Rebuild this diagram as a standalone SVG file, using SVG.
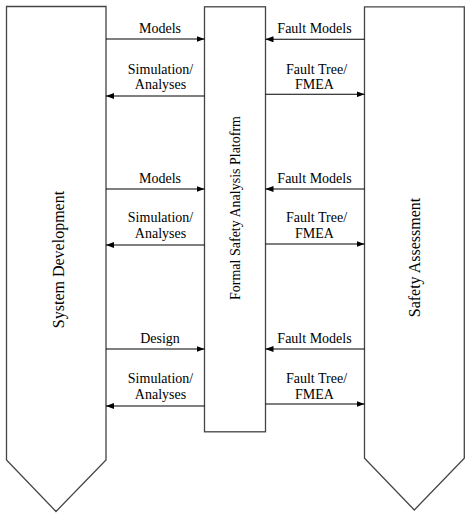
<svg xmlns="http://www.w3.org/2000/svg" width="471" height="521" viewBox="0 0 471 521">
<style>
.box{fill:#fff;stroke:#444;stroke-width:1.3}
.ln{stroke:#000;stroke-width:1.1;fill:none}
.lbl{font-family:"Liberation Serif",serif;font-size:14px;fill:#000;text-anchor:middle}
.big{font-family:"Liberation Serif",serif;font-size:16px;fill:#000;text-anchor:middle}
.mid{font-family:"Liberation Serif",serif;font-size:14px;fill:#000;text-anchor:middle}
</style>
<defs>
<marker id="ah" viewBox="0 0 8 6" refX="8" refY="3" markerWidth="8" markerHeight="6" markerUnits="userSpaceOnUse" orient="auto">
<path d="M0,0 L8,3 L0,6 Z" fill="#000"/>
</marker>
</defs>
<g id="system-development">
<polygon class="box" points="6.5,6.5 106,6.5 106,460 56,511.5 6.5,460"/>
<text class="big" transform="translate(64,259.5) rotate(-90)">System Development</text>
</g>
<g id="platform">
<rect class="box" x="204.5" y="6.8" width="61" height="425"/>
<text class="mid" transform="translate(239.5,208) rotate(-90)">Formal Safety Analysis Platofrm</text>
</g>
<g id="safety-assessment">
<polygon class="box" points="364.5,6.8 464.3,6.8 464.3,458.3 414.3,510 364.5,458.3"/>
<text class="big" transform="translate(419.5,257.5) rotate(-90)">Safety Assessment</text>
</g>
<g id="connectors">
<line class="ln" x1="106" y1="39" x2="204.5" y2="39" marker-end="url(#ah)"/>
<line class="ln" x1="204.5" y1="96" x2="106" y2="96" marker-end="url(#ah)"/>
<line class="ln" x1="364.5" y1="39.3" x2="265.5" y2="39.3" marker-end="url(#ah)"/>
<line class="ln" x1="265.5" y1="94.3" x2="364.5" y2="94.3" marker-end="url(#ah)"/>
<line class="ln" x1="106" y1="189" x2="204.5" y2="189" marker-end="url(#ah)"/>
<line class="ln" x1="204.5" y1="245" x2="106" y2="245" marker-end="url(#ah)"/>
<line class="ln" x1="364.5" y1="189" x2="265.5" y2="189" marker-end="url(#ah)"/>
<line class="ln" x1="265.5" y1="244" x2="364.5" y2="244" marker-end="url(#ah)"/>
<line class="ln" x1="106" y1="349" x2="204.5" y2="349" marker-end="url(#ah)"/>
<line class="ln" x1="204.5" y1="406" x2="106" y2="406" marker-end="url(#ah)"/>
<line class="ln" x1="364.5" y1="349" x2="265.5" y2="349" marker-end="url(#ah)"/>
<line class="ln" x1="265.5" y1="404" x2="364.5" y2="404" marker-end="url(#ah)"/>
<text class="lbl" x="160" y="33.3">Models</text>
<text class="lbl" x="160.5" y="73.5">Simulation/</text>
<text class="lbl" x="160.5" y="89.3">Analyses</text>
<text class="lbl" x="314.5" y="33.3">Fault Models</text>
<text class="lbl" x="316.5" y="73.5">Fault Tree/</text>
<text class="lbl" x="314.5" y="89.3">FMEA</text>
<text class="lbl" x="160" y="182.7">Models</text>
<text class="lbl" x="160.5" y="222.3">Simulation/</text>
<text class="lbl" x="160.5" y="238.3">Analyses</text>
<text class="lbl" x="314.5" y="182.7">Fault Models</text>
<text class="lbl" x="316.5" y="222.3">Fault Tree/</text>
<text class="lbl" x="314.5" y="238.3">FMEA</text>
<text class="lbl" x="160" y="343.3">Design</text>
<text class="lbl" x="160.5" y="383.3">Simulation/</text>
<text class="lbl" x="160.5" y="398.7">Analyses</text>
<text class="lbl" x="314.5" y="343.3">Fault Models</text>
<text class="lbl" x="316.5" y="383.3">Fault Tree/</text>
<text class="lbl" x="314.5" y="398.7">FMEA</text>
</g>
</svg>
